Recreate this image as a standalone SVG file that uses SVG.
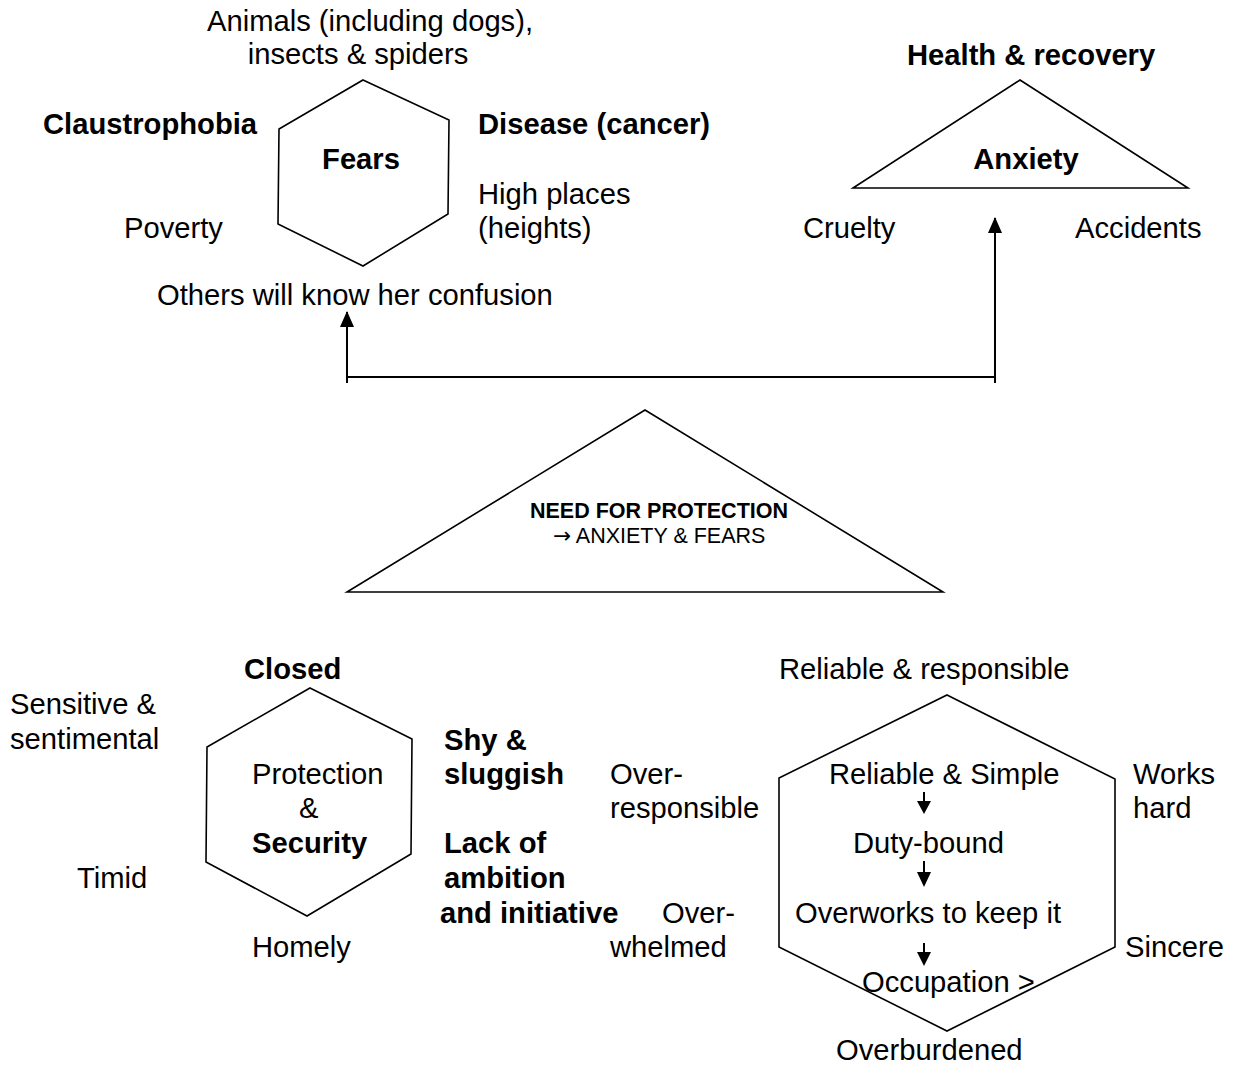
<svg xmlns="http://www.w3.org/2000/svg" width="1235" height="1065" viewBox="0 0 1235 1065">
<style>
text{font-family:"Liberation Sans",Arial,sans-serif;font-size:29.2px;fill:#000}
.b{font-weight:bold}
.s{font-size:21.5px}
.m{text-anchor:middle}
.arr{font-family:"DejaVu Sans",sans-serif}
.shape{fill:#fff;stroke:#000;stroke-width:1.6}
.conn{fill:none;stroke:#000;stroke-width:2}
</style>
<defs>
<marker id="ah" markerUnits="userSpaceOnUse" markerWidth="16" markerHeight="14" refX="15" refY="7" orient="auto" viewBox="0 0 16 14">
<path d="M0,0 L16,7 L0,14 Z" fill="#000"/>
</marker>
</defs>
<rect width="1235" height="1065" fill="#fff"/>

<g id="fears">
<polygon class="shape" points="363,80 449,120 448,214 363,266 278,224 279,129"/>
<text class="b m" x="361" y="169">Fears</text>
<text class="m" x="370" y="31">Animals (including dogs),</text>
<text class="m" x="358" y="64">insects &amp; spiders</text>
<text class="b" x="43" y="134">Claustrophobia</text>
<text class="b" x="478" y="134">Disease (cancer)</text>
<text x="478" y="204">High places</text>
<text x="478" y="238">(heights)</text>
<text x="124" y="238">Poverty</text>
<text x="157" y="305">Others will know her confusion</text>
</g>

<g id="anxiety">
<polygon class="shape" points="1020,80 1188,188 853,188"/>
<text class="b m" x="1026" y="169">Anxiety</text>
<text class="b" x="907" y="65">Health &amp; recovery</text>
<text x="803" y="238">Cruelty</text>
<text x="1075" y="238">Accidents</text>
</g>

<g id="need">
<polygon class="shape" points="645,410 943,592 347,592"/>
<text class="b s m" x="659" y="518">NEED FOR PROTECTION</text>
<text class="s" x="553" y="543"><tspan class="arr">→</tspan> ANXIETY &amp; FEARS</text>
</g>

<g id="security">
<polygon class="shape" points="310,688 412,739 411,854 307,916 206,862 207,747"/>
<text x="252" y="784">Protection</text>
<text x="299" y="818">&amp;</text>
<text class="b" x="252" y="853">Security</text>
<text class="b" x="244" y="679">Closed</text>
<text x="10" y="714">Sensitive &amp;</text>
<text x="10" y="749">sentimental</text>
<text x="77" y="888">Timid</text>
<text x="252" y="957">Homely</text>
<text class="b" x="444" y="750">Shy &amp;</text>
<text class="b" x="444" y="784">sluggish</text>
<text class="b" x="444" y="853">Lack of</text>
<text class="b" x="444" y="888">ambition</text>
<text class="b" x="440" y="923">and initiative</text>
<text x="610" y="784">Over-</text>
<text x="610" y="818">responsible</text>
<text x="662" y="923">Over-</text>
<text x="610" y="957">whelmed</text>
</g>

<g id="reliable">
<polygon class="shape" points="947,695 1115,779 1115,947 947,1031 779,947 779,778"/>
<text x="829" y="784">Reliable &amp; Simple</text>
<text x="853" y="853">Duty-bound</text>
<text x="795" y="923">Overworks to keep it</text>
<text x="862" y="992">Occupation &gt;</text>
<text x="779" y="679">Reliable &amp; responsible</text>
<text x="1133" y="784">Works</text>
<text x="1133" y="818">hard</text>
<text x="1125" y="957">Sincere</text>
<text x="836" y="1060">Overburdened</text>
<g id="inner-arrows">
<line x1="924" y1="792" x2="924" y2="802" stroke="#000" stroke-width="2"/>
<polygon points="917,801 931,801 924,814" fill="#000"/>
<line x1="924" y1="861" x2="924" y2="873" stroke="#000" stroke-width="2"/>
<polygon points="917,872 931,872 924,887" fill="#000"/>
<line x1="924" y1="943" x2="924" y2="953" stroke="#000" stroke-width="2"/>
<polygon points="917,952 931,952 924,966" fill="#000"/>
</g>
</g>

<g id="connectors">
<path class="conn" d="M347,383 L347,377 L995,377 L995,383"/>
<line class="conn" x1="347" y1="377" x2="347" y2="312" marker-end="url(#ah)"/>
<line class="conn" x1="995" y1="377" x2="995" y2="218" marker-end="url(#ah)"/>
</g>
</svg>
